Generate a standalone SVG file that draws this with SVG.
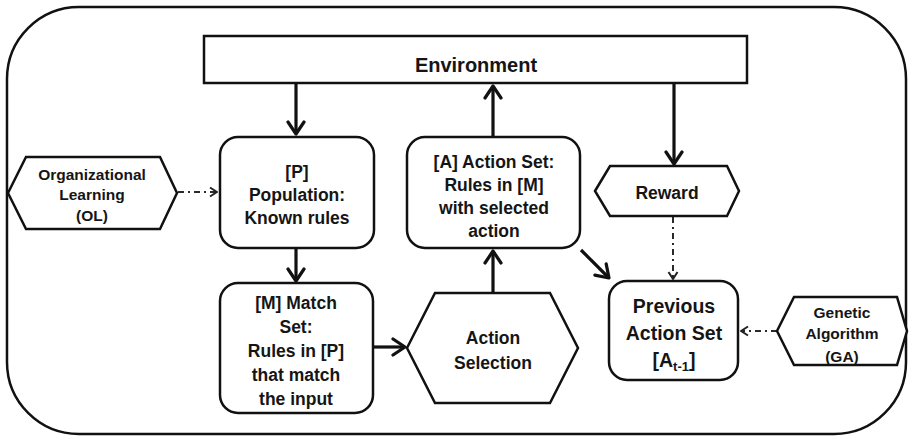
<svg xmlns="http://www.w3.org/2000/svg" width="911" height="437" viewBox="0 0 911 437">
  <defs>
    <style>
      .frame { fill: #fff; stroke: #111; stroke-width: 2.5; }
      .box { fill: #fff; stroke: #111; stroke-width: 2.5; }
      .lbl { font-family: "Liberation Sans", Arial, sans-serif; font-weight: bold; fill: #151515; text-anchor: middle; }
      .f17 { font-size: 17.5px; }
      .f15 { font-size: 15.5px; }
      .f19 { font-size: 19.5px; }
      .f20 { font-size: 20px; }
      .solid { fill: none; stroke: #111; stroke-width: 3.2; marker-end: url(#headSolid); }
      .dashdot { fill: none; stroke: #2a2a2a; stroke-width: 2; stroke-dasharray: 6 4 2 4; marker-end: url(#headThin); }
    </style>
    <marker id="headSolid" markerUnits="userSpaceOnUse" viewBox="-14 -10 16 20" refX="0" refY="0" markerWidth="16" markerHeight="20" orient="auto">
      <path d="M-12,-8 L0,0 L-12,8" fill="none" stroke="#111" stroke-width="3.2" stroke-linejoin="round" stroke-linecap="round"/>
    </marker>
    <marker id="headThin" markerUnits="userSpaceOnUse" viewBox="-9 -6 10 12" refX="0" refY="0" markerWidth="10" markerHeight="12" orient="auto">
      <path d="M-7,-4.5 L0,0 L-7,4.5" fill="none" stroke="#222" stroke-width="2" stroke-linejoin="round"/>
    </marker>
  </defs>

  <rect width="911" height="437" fill="#fff"/>

  <!-- outer system boundary -->
  <rect class="frame" x="7" y="7" width="899" height="427" rx="72" ry="72"/>

  <g id="connectors">
    <line class="solid" x1="296" y1="83" x2="296" y2="134"/>
    <line class="dashdot" x1="178" y1="192" x2="217" y2="192"/>
    <line class="solid" x1="296" y1="248" x2="296" y2="281"/>
    <line class="solid" x1="374" y1="347" x2="405" y2="347"/>
    <line class="solid" x1="493" y1="293" x2="493" y2="251"/>
    <line class="solid" x1="493" y1="137" x2="493" y2="86"/>
    <line class="solid" x1="674" y1="83" x2="674" y2="164"/>
    <line class="solid" x1="581" y1="250" x2="609" y2="278"/>
    <line class="dashdot" x1="673" y1="217" x2="673" y2="279"/>
    <line class="dashdot" x1="777" y1="331" x2="741" y2="331"/>
  </g>

  <g id="environment">
    <rect class="box" x="204" y="36" width="543" height="47"/>
    <text class="lbl f20" x="476" y="72">Environment</text>
  </g>

  <g id="organizational-learning">
    <polygon class="box" points="8,193 26,157 160,157 177,193 160,229 26,229"/>
    <text class="lbl f15" x="92" y="180">Organizational</text>
    <text class="lbl f15" x="92" y="200">Learning</text>
    <text class="lbl f15" x="92" y="221">(OL)</text>
  </g>

  <g id="population">
    <rect class="box" x="220" y="137" width="154" height="111" rx="18" ry="18"/>
    <text class="lbl f17" x="297" y="178">[P]</text>
    <text class="lbl f17" x="297" y="201">Population:</text>
    <text class="lbl f17" x="297" y="224">Known rules</text>
  </g>

  <g id="match-set">
    <rect class="box" x="220" y="283" width="153" height="130" rx="18" ry="18"/>
    <text class="lbl f17" x="296" y="309">[M] Match</text>
    <text class="lbl f17" x="296" y="333">Set:</text>
    <text class="lbl f17" x="296" y="357">Rules in [P]</text>
    <text class="lbl f17" x="296" y="381">that match</text>
    <text class="lbl f17" x="296" y="405">the input</text>
  </g>

  <g id="action-set">
    <rect class="box" x="407" y="137" width="173" height="111" rx="18" ry="18"/>
    <text class="lbl f17" x="494" y="168">[A] Action Set:</text>
    <text class="lbl f17" x="494" y="191">Rules in [M]</text>
    <text class="lbl f17" x="494" y="214">with selected</text>
    <text class="lbl f17" x="494" y="237">action</text>
  </g>

  <g id="action-selection">
    <polygon class="box" points="407,348 435,293 550,293 578,348 550,403 435,403"/>
    <text class="lbl f17" x="493" y="344">Action</text>
    <text class="lbl f17" x="493" y="369">Selection</text>
  </g>

  <g id="reward">
    <polygon class="box" points="595,191 610,166 727,166 739,191 727,216 610,216"/>
    <text class="lbl f17" x="667" y="199">Reward</text>
  </g>

  <g id="previous-action-set">
    <rect class="box" x="609" y="281" width="129" height="99" rx="18" ry="18"/>
    <text class="lbl f19" x="674" y="313">Previous</text>
    <text class="lbl f19" x="674" y="340">Action Set</text>
    <text class="lbl f19" x="674" y="367">[A<tspan font-size="13" dy="4">t-1</tspan><tspan dy="-4">]</tspan></text>
  </g>

  <g id="genetic-algorithm">
    <polygon class="box" points="777,331 794,297 897,297 907,331 897,365 794,365"/>
    <text class="lbl f15" x="842" y="318">Genetic</text>
    <text class="lbl f15" x="842" y="339">Algorithm</text>
    <text class="lbl f15" x="842" y="362">(GA)</text>
  </g>
</svg>
